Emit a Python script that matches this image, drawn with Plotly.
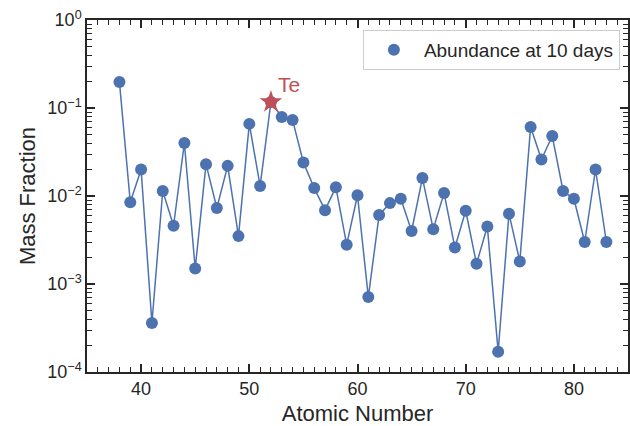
import math
import plotly.graph_objects as go

atomic_number = list(range(38, 84))
mass_fraction = [
    0.197, 0.0085, 0.020, 3.6e-4, 0.0114, 0.0046, 0.040, 0.0015, 0.023, 0.0073,
    0.022, 0.0035, 0.066, 0.013, 0.117, 0.079, 0.073, 0.024, 0.0123, 0.0069,
    0.0126, 0.0028, 0.0102, 7.1e-4, 0.0061, 0.0083, 0.0093, 0.0040, 0.016, 0.0042,
    0.0108, 0.0026, 0.0068, 0.0017, 0.0045, 1.7e-4, 0.0063, 0.0018, 0.061, 0.026,
    0.048, 0.0114, 0.0093, 0.0030, 0.020, 0.0030,
]
highlight_z = [52]
highlight_label = ["Te"]
highlight_val = [mass_fraction[atomic_number.index(52)]]

y_tickvals = [1e-4, 1e-3, 1e-2, 1e-1, 1]
y_ticktext = ["10<sup>−4</sup>", "10<sup>−3</sup>", "10<sup>−2</sup>", "10<sup>−1</sup>", "10<sup>0</sup>"]
x_tickvals = [40, 50, 60, 70, 80]
x_range = [35, 85]
y_exp_range = [-4, 0]

# minor tick positions (axis decoration only)
x_minor = [v for v in range(x_range[0], x_range[1] + 1) if v % 10 != 0]
y_minor = [m * 10.0 ** e for e in range(y_exp_range[0], y_exp_range[1]) for m in range(2, 10)]

blue = "#4c72b0"
red = "#c44e52"
dark = "#262626"
font = "Liberation Sans, Arial, sans-serif"

fig = go.Figure()
fig.add_trace(go.Scatter(
    x=atomic_number, y=mass_fraction, mode="lines",
    line=dict(color=blue, width=1.5), showlegend=False, hoverinfo="skip"))
fig.add_trace(go.Scatter(
    x=atomic_number, y=mass_fraction, mode="markers",
    marker=dict(color=blue, size=12), name="Abundance at 10 days"))
fig.add_trace(go.Scatter(
    x=highlight_z, y=highlight_val, mode="markers",
    marker=dict(color=red, size=17, symbol="star"), showlegend=False))

for z, lab, v in zip(highlight_z, highlight_label, highlight_val):
    fig.add_annotation(x=z, y=math.log10(v), yref="y", xref="x", text=lab, showarrow=False,
                       xanchor="left", yanchor="middle", xshift=5, yshift=18,
                       font=dict(color=red, size=21, family=font))

axis_common = dict(
    showline=True, linecolor=dark, linewidth=1.5, mirror="allticks",
    ticks="inside", ticklen=8, tickwidth=1.5, tickcolor=dark,
    showgrid=False, zeroline=False, automargin=False,
    tickfont=dict(size=18, color=dark, family=font),
)
deco_common = dict(
    showticklabels=False, ticks="inside", tickcolor=dark,
    mirror="allticks", showline=False, showgrid=False, zeroline=False, automargin=False,
)
minor_len = dict(ticklen=5, tickwidth=1.3)
major_len = dict(ticklen=8, tickwidth=1.5)

fig.update_layout(
    xaxis=dict(
        range=x_range, tickvals=x_tickvals,
        title=dict(text="Atomic Number", font=dict(size=22, color=dark, family=font), standoff=8),
        **axis_common),
    yaxis=dict(
        type="log", range=y_exp_range, tickvals=y_tickvals, ticktext=y_ticktext,
        title=dict(text="Mass Fraction", font=dict(size=22, color=dark, family=font), standoff=6),
        **axis_common),
    xaxis2=dict(overlaying="x", anchor="y", side="bottom", range=x_range, tickvals=x_minor,
                **deco_common, **minor_len),
    yaxis2=dict(overlaying="y", anchor="x", side="left", type="log", range=y_exp_range,
                tickvals=y_minor, **deco_common, **minor_len),
    xaxis3=dict(overlaying="x", anchor="y", side="bottom", range=x_range, tickvals=x_tickvals,
                **deco_common, **major_len),
    yaxis3=dict(overlaying="y", anchor="x", side="left", type="log", range=y_exp_range,
                tickvals=y_tickvals, **deco_common, **major_len),
    width=630, height=426,
    margin=dict(l=87, r=2, t=20, b=54),
    plot_bgcolor="white", paper_bgcolor="white",
    font=dict(family=font, color=dark),
    legend=dict(
        x=0.985, y=0.972, xanchor="right", yanchor="top",
        bgcolor="white", bordercolor="#cccccc", borderwidth=1,
        font=dict(size=19, color=dark, family=font),
        itemwidth=50,
    ),
)
# invisible traces so the tick-decoration axes are drawn
fig.add_trace(go.Scatter(x=[x_range[0]], y=[1e-2], xaxis="x2", yaxis="y2", mode="markers",
                         marker=dict(opacity=0), showlegend=False, hoverinfo="skip"))
fig.add_trace(go.Scatter(x=[x_range[0]], y=[1e-2], xaxis="x3", yaxis="y3", mode="markers",
                         marker=dict(opacity=0), showlegend=False, hoverinfo="skip"))

fig.write_html("out.html", config={"displayModeBar": False},
               post_script="document.body.style.margin='0';")
